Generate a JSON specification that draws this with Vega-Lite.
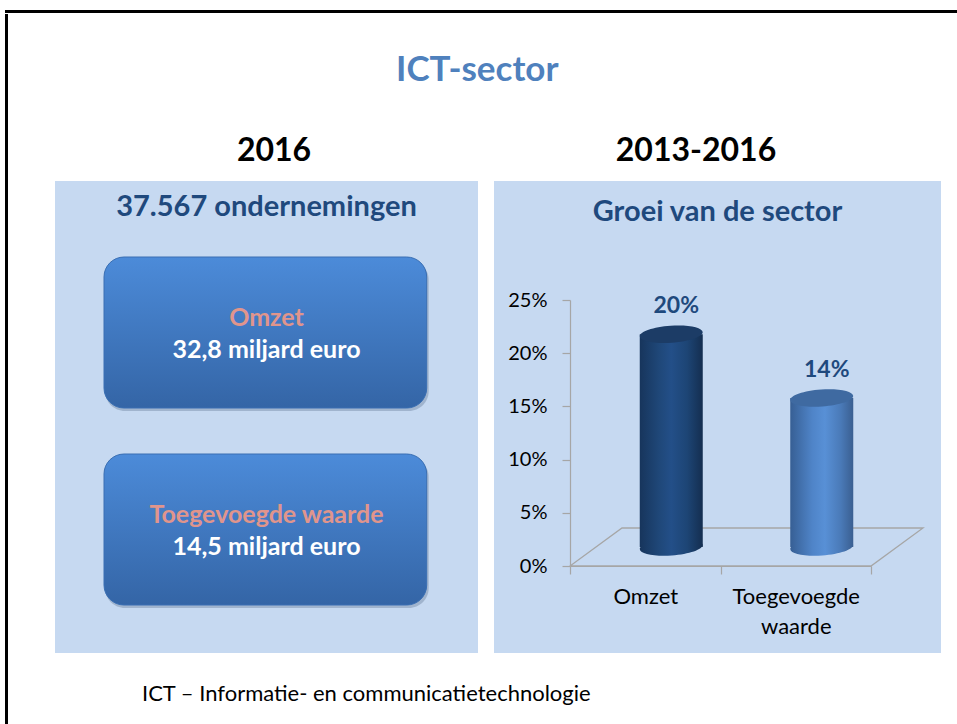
{
  "$schema": "https://vega.github.io/schema/vega-lite/v6.json",
  "background": "white",
  "padding": {"left": 5, "top": 10, "right": 0, "bottom": 0},
  "config": {"font": "Lato", "view": {"stroke": null}},
  "spacing": 0,
  "vconcat": [
    {
      "width": 952,
      "height": 3,
      "view": {"fill": "#000000", "stroke": null},
      "data": {"values": []},
      "mark": "point"
    },
    {
      "spacing": 46,
      "hconcat": [
        {
          "width": 3,
          "height": 711,
          "view": {"fill": "#000000", "stroke": null},
          "data": {"values": []},
          "mark": "point"
        },
        {
          "spacing": 37,
          "vconcat": [
            {
              "width": 1,
              "height": 1,
              "view": {"stroke": "transparent"},
              "data": {"values": []},
              "mark": "point"
            },
            {
              "title": {"text": "ICT-sector", "fontSize": 35, "font": "Lato", "fontWeight": "bold", "color": "#4f81bd", "offset": 46.7, "dx": -20.5, "anchor": "middle"},
              "spacing": 29.5,
              "vconcat": [
                {
                  "spacing": 16,
                  "hconcat": [
                    {
                      "title": {"text": "2016", "fontSize": 32, "fontWeight": "bold", "color": "#000000", "offset": 13, "dx": 7.5, "anchor": "middle"},
                      "vconcat": [
                        {
                          "width": 423,
                          "height": 472,
                          "view": {"fill": "#c6d9f1", "stroke": null},
                          "title": {"text": "37.567 ondernemingen", "fontSize": 29, "fontWeight": "bold", "color": "#1f497d", "offset": -41, "anchor": "middle"},
                          "data": {"values": [
                            {"item": "Omzet", "amount": "32,8 miljard euro"},
                            {"item": "Toegevoegde waarde", "amount": "14,5 miljard euro"}
                          ]},
                          "encoding": {
                            "y": {"field": "item", "type": "nominal", "sort": null, "axis": null,
                                  "scale": {"paddingInner": 0.2335, "paddingOuter": 0.3147, "align": 0.613}},
                            "x": {"datum": 0, "type": "quantitative", "scale": {"domain": [0, 1], "nice": false, "zero": false}, "axis": null}
                          },
                          "layer": [
                            {
                              "mark": {"type": "bar", "cornerRadius": 20, "xOffset": 50, "x2Offset": -49.3, "yOffset": 3, "y2Offset": 3,
                                       "fill": "#5a6f8c", "opacity": 0.35},
                              "encoding": {"x2": {"datum": 1}}
                            },
                            {
                              "mark": {"type": "bar", "cornerRadius": 20, "xOffset": 49, "x2Offset": -51.3,
                                       "fill": {"gradient": "linear", "x1": 0, "y1": 0, "x2": 0, "y2": 1,
                                                "stops": [{"offset": 0, "color": "#4c8bd9"}, {"offset": 1, "color": "#3465a6"}]},
                                       "stroke": "#3a6fb3", "strokeWidth": 1},
                              "encoding": {"x2": {"datum": 1}}
                            },
                            {
                              "mark": {"type": "text", "fontSize": 25, "fontWeight": "bold", "color": "#e0958c", "dy": -7, "align": "center", "baseline": "alphabetic"},
                              "encoding": {"x": {"datum": 0.5, "type": "quantitative"}, "text": {"field": "item"}}
                            },
                            {
                              "mark": {"type": "text", "fontSize": 25, "fontWeight": "bold", "color": "#ffffff", "dy": 25, "align": "center", "baseline": "alphabetic"},
                              "encoding": {"x": {"datum": 0.5, "type": "quantitative"}, "text": {"field": "amount"}}
                            }
                          ]
                        }
                      ]
                    },
                    {
                      "title": {"text": "2013-2016", "fontSize": 32, "fontWeight": "bold", "color": "#000000", "offset": 13, "dx": -21.5, "anchor": "middle"},
                      "vconcat": [
                        {
                          "width": 447,
                          "height": 472,
                          "view": {"fill": "#c6d9f1", "stroke": null},
                          "title": {"text": "Groei van de sector", "fontSize": 29, "fontWeight": "bold", "color": "#1f497d", "offset": -46, "anchor": "middle"},
                          "data": {"values": [
                            {"cat": "Omzet", "growth": 0.20},
                            {"cat": "Toegevoegde waarde", "growth": 0.14}
                          ]},
                          "encoding": {
                            "x": {"field": "cat", "type": "nominal", "sort": null,
                                  "scale": {"type": "band", "range": [76, 377], "paddingInner": 0, "paddingOuter": 0},
                                  "axis": {"orient": "bottom", "offset": -87, "title": null, "labelAngle": 0,
                                           "labelFontSize": 22, "labelColor": "#000000", "labelPadding": 12,
                                           "labelLineHeight": 30, "labelOverlap": false,
                                           "labelExpr": "datum.value === 'Toegevoegde waarde' ? ['Toegevoegde', 'waarde'] : datum.value",
                                           "domainColor": "#a6a6a6", "domainWidth": 1.2, "tickColor": "#a6a6a6",
                                           "tickWidth": 1.2, "tickSize": 8, "tickBand": "extent", "grid": false}},
                            "y": {"field": "growth", "type": "quantitative",
                                  "scale": {"domain": [0, 0.25], "range": [385, 119], "nice": false},
                                  "axis": {"orient": "left", "offset": -76, "title": null,
                                           "values": [0, 0.05, 0.1, 0.15, 0.2, 0.25], "format": ".0%",
                                           "labelFontSize": 20, "labelColor": "#000000", "labelPadding": 15,
                                           "domainColor": "#a6a6a6", "domainWidth": 1.2, "tickColor": "#a6a6a6",
                                           "tickWidth": 1.2, "tickSize": 8, "grid": false}}
                          },
                          "layer": [
                            {
                              "transform": [{"filter": "datum.cat === 'Omzet'"}],
                              "mark": {"type": "point", "shape": "M -1 0.1076 L 0.7054 0.1076 L 1 -0.1076 L -0.7054 -0.1076 Z",
                                       "size": 124609, "filled": false, "stroke": "#a6a6a6", "strokeWidth": 1.3, "opacity": 1,
                                       "xOffset": 26, "yOffset": -19},
                              "encoding": {
                                "x": {"field": "cat", "type": "nominal", "bandPosition": 1},
                                "y": {"datum": 0, "type": "quantitative"}
                              }
                            },
                            {
                              "transform": [{"filter": "datum.cat === 'Omzet'"}],
                              "layer": [
                                {
                                  "mark": {"type": "point", "shape": "M -1 0 C -1 -0.149 -0.552 -0.27 0 -0.27 C 0.552 -0.27 1 -0.149 1 0 C 1 0.149 0.552 0.27 0 0.27 C -0.552 0.27 -1 0.149 -1 0 Z",
                                           "size": 3969, "filled": true, "opacity": 1, "strokeWidth": 0, "angle": -4,
                                           "xOffset": 26, "yOffset": -19,
                                           "fill": {"gradient": "linear", "x1": 0, "y1": 0, "x2": 1, "y2": 0,
                                                    "stops": [{"offset": 0, "color": "#17355c"}, {"offset": 0.3, "color": "#1f4778"}, {"offset": 0.5, "color": "#234f88"}, {"offset": 0.75, "color": "#1d4575"}, {"offset": 1, "color": "#142e50"}]}},
                                  "encoding": {"y": {"datum": 0, "type": "quantitative"}}
                                },
                                {
                                  "mark": {"type": "bar", "width": 63, "xOffset": 26, "yOffset": -19, "y2Offset": -19,
                                           "fill": {"gradient": "linear", "x1": 0, "y1": 0, "x2": 1, "y2": 0,
                                                    "stops": [{"offset": 0, "color": "#17355c"}, {"offset": 0.3, "color": "#1f4778"}, {"offset": 0.5, "color": "#234f88"}, {"offset": 0.75, "color": "#1d4575"}, {"offset": 1, "color": "#142e50"}]}}
                                },
                                {
                                  "mark": {"type": "point", "shape": "M -1 0 C -1 -0.149 -0.552 -0.27 0 -0.27 C 0.552 -0.27 1 -0.149 1 0 C 1 0.149 0.552 0.27 0 0.27 C -0.552 0.27 -1 0.149 -1 0 Z",
                                           "size": 3969, "filled": true, "opacity": 1, "strokeWidth": 0, "angle": -4,
                                           "xOffset": 26, "yOffset": -19, "fill": "#1c3c66"}
                                }
                              ]
                            },
                            {
                              "transform": [{"filter": "datum.cat === 'Toegevoegde waarde'"}],
                              "layer": [
                                {
                                  "mark": {"type": "point", "shape": "M -1 0 C -1 -0.149 -0.552 -0.27 0 -0.27 C 0.552 -0.27 1 -0.149 1 0 C 1 0.149 0.552 0.27 0 0.27 C -0.552 0.27 -1 0.149 -1 0 Z",
                                           "size": 3969, "filled": true, "opacity": 1, "strokeWidth": 0, "angle": -4,
                                           "xOffset": 26, "yOffset": -19,
                                           "fill": {"gradient": "linear", "x1": 0, "y1": 0, "x2": 1, "y2": 0,
                                                    "stops": [{"offset": 0, "color": "#375f94"}, {"offset": 0.35, "color": "#4f84c8"}, {"offset": 0.55, "color": "#5890d6"}, {"offset": 0.8, "color": "#4a7ab8"}, {"offset": 1, "color": "#3a5f91"}]}},
                                  "encoding": {"y": {"datum": 0, "type": "quantitative"}}
                                },
                                {
                                  "mark": {"type": "bar", "width": 63, "xOffset": 26, "yOffset": -19, "y2Offset": -19,
                                           "fill": {"gradient": "linear", "x1": 0, "y1": 0, "x2": 1, "y2": 0,
                                                    "stops": [{"offset": 0, "color": "#375f94"}, {"offset": 0.35, "color": "#4f84c8"}, {"offset": 0.55, "color": "#5890d6"}, {"offset": 0.8, "color": "#4a7ab8"}, {"offset": 1, "color": "#3a5f91"}]}}
                                },
                                {
                                  "mark": {"type": "point", "shape": "M -1 0 C -1 -0.149 -0.552 -0.27 0 -0.27 C 0.552 -0.27 1 -0.149 1 0 C 1 0.149 0.552 0.27 0 0.27 C -0.552 0.27 -1 0.149 -1 0 Z",
                                           "size": 3969, "filled": true, "opacity": 1, "strokeWidth": 0, "angle": -4,
                                           "xOffset": 26, "yOffset": -19, "fill": "#3f6aa1"}
                                }
                              ]
                            },
                            {
                              "mark": {"type": "text", "fontSize": 23, "fontWeight": "bold", "color": "#1f497d",
                                       "xOffset": 31, "yOffset": -19, "dy": -21.5, "align": "center", "baseline": "alphabetic"},
                              "encoding": {"text": {"field": "growth", "type": "quantitative", "format": ".0%"}}
                            }
                          ]
                        }
                      ]
                    }
                  ]
                },
                {
                  "width": 174,
                  "height": 1,
                  "view": {"stroke": "transparent"},
                  "data": {"values": [{"note": "ICT – Informatie- en communicatietechnologie"}]},
                  "mark": {"type": "text", "align": "left", "baseline": "alphabetic", "fontSize": 22, "color": "#000000"},
                  "encoding": {"text": {"field": "note", "type": "nominal"}}
                }
              ]
            }
          ]
        }
      ]
    }
  ]
}
